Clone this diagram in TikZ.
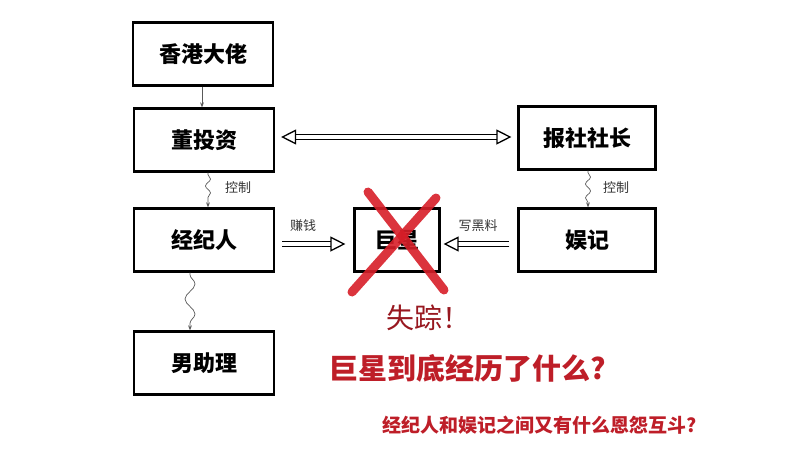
\documentclass[tikz,border=0pt]{standalone}
\usepackage{fontspec}
\newfontfamily\cjk{Noto Sans CJK SC}
\usetikzlibrary{arrows.meta,decorations.pathmorphing,calc}
\definecolor{redx}{RGB}{215,30,40}
\definecolor{redt}{RGB}{190,30,40}
\begin{document}
\begin{tikzpicture}[x=1pt,y=-1pt,
  bx/.style={draw,line width=2.2pt,minimum width=140pt,minimum height=63pt,font=\cjk\bfseries\fontsize{22}{22}\selectfont,inner sep=0pt},
  hollow/.style={double,double distance=4pt,line width=1.3pt,-{Triangle[open,length=15pt,width=15pt,line width=1.3pt]}},
  hollow2/.style={double,double distance=4pt,line width=1.3pt,{Triangle[open,length=15pt,width=15pt,line width=1.3pt]}-{Triangle[open,length=15pt,width=15pt,line width=1.3pt]}},
  sq/.style={gray!70!black,line width=0.7pt,-{Stealth[length=5pt]},decorate,decoration={snake,amplitude=2.5pt,segment length=14pt,pre length=2pt,post length=5pt}},
  lbl/.style={font=\cjk\fontsize{13}{13}\selectfont,text=black!80}]
\useasboundingbox (0,0) rectangle (800,475);
\node[bx] (hk) at (203,54) {香港大佬};
\node[bx] (dong) at (204,140) {董投资};
\node[bx] (jjr) at (204,240) {经纪人};
\node[bx] (nan) at (204,363) {男助理};
\node[bx,minimum width=137pt] (bs) at (587,138) {报社社长};
\node[bx,minimum width=137pt] (yj) at (587,240) {娱记};
\node[bx,minimum width=85pt] (jx) at (397,240) {巨星};
\draw[gray!70!black,line width=0.7pt,-{Stealth[length=5pt]}] (hk.south -| 202,0) -- (dong.north -| 202,0);
\draw[sq] (dong.south -| 208,0) -- (jjr.north -| 208,0);
\node[lbl] (k1) at (238,188) {控制};
\draw[sq] (bs.south -| 588,0) -- (yj.north -| 588,0);
\node[lbl] (k2) at (616,188) {控制};
\draw[sq,decoration={snake,amplitude=5pt,segment length=30pt,pre length=2pt,post length=5pt}] (jjr.south -| 190,0) -- (nan.north -| 190,0);
\draw[hollow2] ($(dong.east)+(6,-3)$) -- ($(bs.west)+(-6,-1)$);
\draw[hollow] ($(jjr.east)+(7,4)$) -- ($(jx.west)+(-8,4)$);
\node[lbl] (zq) at (303,226) {赚钱};
\draw[hollow] ($(yj.west)+(-8,4)$) -- ($(jx.east)+(3,4)$);
\node[lbl] (xhl) at (478,226) {写黑料};
\draw[redx,line width=9pt,line cap=round,opacity=0.9] (368,192) -- (444,290);
\draw[redx,line width=9pt,line cap=round,opacity=0.9] (436,198) -- (352,292);
\node[text=redt!80!black,font=\cjk\fontsize{28}{28}\selectfont] (sz) at (428,318) {失踪！};
\node[text=redt,font=\cjk\bfseries\fontsize{29}{29}\selectfont] (q1) at (468,368) {巨星到底经历了什么?};
\node[text=redt,font=\cjk\bfseries\fontsize{19}{19}\selectfont] (q2) at (540,425) {经纪人和娱记之间又有什么恩怨互斗?};
\end{tikzpicture}
\end{document}
